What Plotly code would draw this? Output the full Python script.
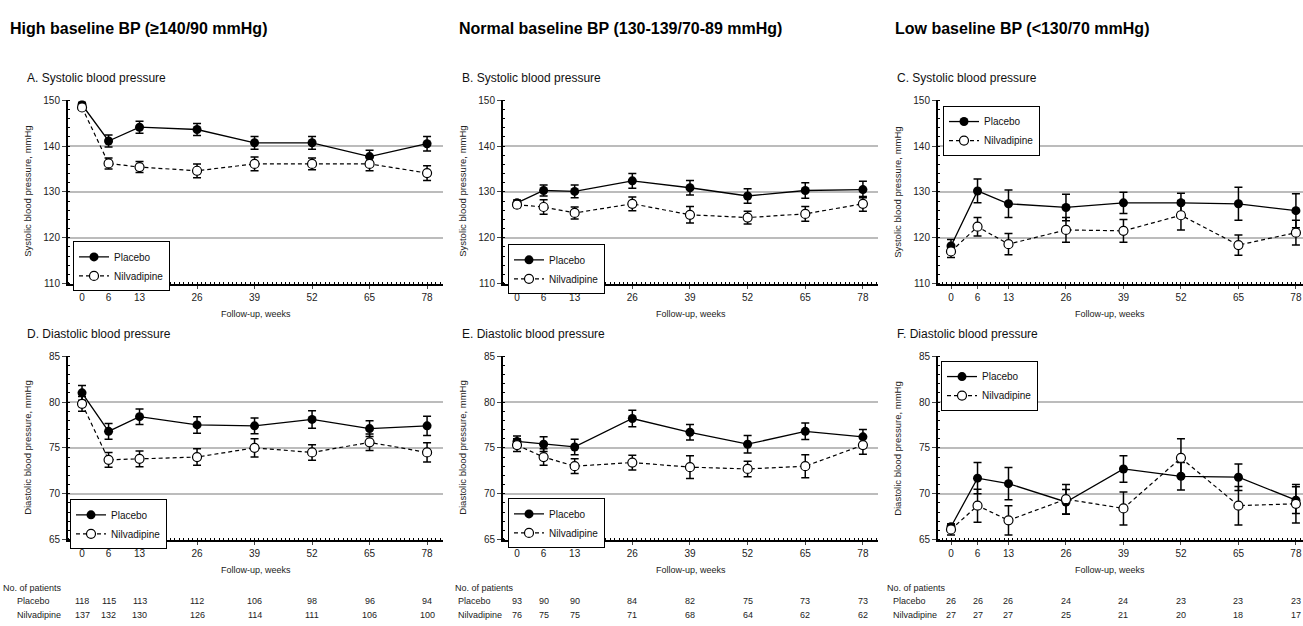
import plotly.graph_objects as go

weeks = [0, 6, 13, 26, 39, 52, 65, 78]

# Systolic BP (mmHg) - mean and error
A_placebo = [149.0, 141.1, 144.1, 143.6, 140.7, 140.7, 137.7, 140.5]
A_placebo_err = [0.5, 1.3, 1.3, 1.3, 1.4, 1.4, 1.4, 1.6]
A_nilva = [148.4, 136.2, 135.4, 134.6, 136.1, 136.1, 136.1, 134.1]
A_nilva_err = [0.5, 1.2, 1.2, 1.5, 1.5, 1.3, 1.5, 1.6]

B_placebo = [127.6, 130.3, 130.1, 132.4, 130.9, 129.1, 130.3, 130.5]
B_placebo_err = [0.6, 1.2, 1.4, 1.6, 1.6, 1.6, 1.7, 1.8]
B_nilva = [127.2, 126.7, 125.4, 127.4, 125.0, 124.4, 125.2, 127.4]
B_nilva_err = [0.6, 1.6, 1.3, 1.5, 1.8, 1.4, 1.6, 1.6]

C_placebo = [118.2, 130.2, 127.4, 126.6, 127.6, 127.6, 127.4, 125.9]
C_placebo_err = [1.4, 2.6, 3.0, 2.9, 2.3, 2.1, 3.6, 3.7]
C_nilva = [117.0, 122.4, 118.6, 121.7, 121.5, 124.9, 118.4, 121.1]
C_nilva_err = [1.3, 2.0, 2.3, 2.7, 2.5, 3.2, 2.2, 2.7]

# Diastolic BP (mmHg)
D_placebo = [81.0, 76.8, 78.4, 77.5, 77.4, 78.1, 77.1, 77.4]
D_placebo_err = [0.8, 0.85, 0.85, 0.9, 0.85, 0.95, 0.85, 1.05]
D_nilva = [79.8, 73.7, 73.8, 74.0, 75.0, 74.5, 75.6, 74.5]
D_nilva_err = [0.8, 0.8, 0.85, 0.9, 1.0, 0.85, 0.9, 1.05]

E_placebo = [75.7, 75.4, 75.1, 78.2, 76.7, 75.4, 76.8, 76.2]
E_placebo_err = [0.6, 0.8, 0.85, 0.9, 0.85, 0.95, 0.9, 0.8]
E_nilva = [75.3, 74.0, 73.0, 73.4, 72.9, 72.7, 73.0, 75.3]
E_nilva_err = [0.7, 0.9, 0.8, 0.8, 1.25, 0.85, 1.25, 1.0]

F_placebo = [66.4, 71.7, 71.1, 69.1, 72.7, 71.9, 71.8, 69.3]
F_placebo_err = [0.3, 1.7, 1.75, 1.35, 1.45, 1.5, 1.45, 1.45]
F_nilva = [66.1, 68.7, 67.1, 69.4, 68.4, 73.9, 68.7, 68.9]
F_nilva_err = [0.6, 1.8, 1.6, 1.6, 1.8, 2.1, 2.1, 2.1]

# Number of patients
high_n_placebo = [118, 115, 113, 112, 106, 98, 96, 94]
high_n_nilva = [137, 132, 130, 126, 114, 111, 106, 100]
normal_n_placebo = [93, 90, 90, 84, 82, 75, 73, 73]
normal_n_nilva = [76, 75, 75, 71, 68, 64, 62, 62]
low_n_placebo = [26, 26, 26, 24, 24, 23, 23, 23]
low_n_nilva = [27, 27, 27, 25, 21, 20, 18, 17]

column_titles = ["High baseline BP (≥140/90 mmHg)",
                 "Normal baseline BP (130-139/70-89 mmHg)",
                 "Low baseline BP (<130/70 mmHg)"]
panel_titles = ["A. Systolic blood pressure", "B. Systolic blood pressure",
                "C. Systolic blood pressure", "D. Diastolic blood pressure",
                "E. Diastolic blood pressure", "F. Diastolic blood pressure"]

FONT = "Liberation Sans, Arial, sans-serif"
W, H = 1303, 626

def px_x(p):
    return p / W

def px_y(p):
    return 1 - p / H

col_px = [(68, 443), (503, 878), (938, 1303)]
row_px = [(96, 283), (357, 544)]
x_ranges = [[-3.17, 81.6], [-3.16, 81.4], [-2.94, 79.6]]

fig = go.Figure()

panels = [
    (A_placebo, A_placebo_err, A_nilva, A_nilva_err),
    (B_placebo, B_placebo_err, B_nilva, B_nilva_err),
    (C_placebo, C_placebo_err, C_nilva, C_nilva_err),
    (D_placebo, D_placebo_err, D_nilva, D_nilva_err),
    (E_placebo, E_placebo_err, E_nilva, E_nilva_err),
    (F_placebo, F_placebo_err, F_nilva, F_nilva_err),
]

legend_pos = [(73, 240), (508, 243), (943, 102), (70, 503), (508, 502), (941, 362)]

layout = {}
annotations = []
for i, (pl, ple, nv, nve) in enumerate(panels):
    r, c = divmod(i, 3)
    idx = i + 1
    xa = "x" if idx == 1 else f"x{idx}"
    ya = "y" if idx == 1 else f"y{idx}"
    lg = "legend" if idx == 1 else f"legend{idx}"
    fig.add_trace(go.Scatter(
        x=weeks, y=pl, name="Placebo", mode="lines+markers",
        line=dict(color="black", width=1.3),
        marker=dict(symbol="circle", size=9, color="black"),
        error_y=dict(type="data", array=ple, color="black", thickness=1.5, width=4),
        xaxis=xa, yaxis=ya, legend=lg))
    fig.add_trace(go.Scatter(
        x=weeks, y=nv, name="Nilvadipine", mode="lines+markers",
        line=dict(color="black", width=1.2, dash="4px,3px"),
        marker=dict(symbol="circle", size=9, color="white",
                    line=dict(color="black", width=1.2)),
        error_y=dict(type="data", array=nve, color="black", thickness=1.5, width=4),
        xaxis=xa, yaxis=ya, legend=lg))

    x0, x1 = col_px[c]
    y0, y1 = row_px[r]
    sys = r == 0
    layout[("xaxis" if idx == 1 else f"xaxis{idx}")] = dict(
        domain=[px_x(x0), px_x(x1)], anchor=ya, range=x_ranges[c],
        tickvals=weeks, ticks="outside", ticklen=3, tickwidth=1,
        showline=True, linecolor="black", linewidth=2, showgrid=False,
        zeroline=False, tickfont=dict(size=10, color="#222", family=FONT),
        minor=dict(dtick=1, tick0=0, ticks="inside", ticklen=2, tickcolor="black",
                   showgrid=False))
    layout[("yaxis" if idx == 1 else f"yaxis{idx}")] = dict(
        domain=[px_y(y1), px_y(y0)], anchor=xa,
        range=[110, 150] if sys else [65, 85],
        dtick=10 if sys else 5, ticks="outside", ticklen=4, tickwidth=1,
        showline=True, linecolor="black", linewidth=2,
        showgrid=True, gridcolor="#bcbcbc", gridwidth=2, zeroline=False,
        tickfont=dict(size=10, color="#222", family=FONT),
        minor=dict(dtick=2 if sys else 1, ticks="inside", ticklen=2,
                   tickcolor="black", showgrid=False))
    lx, ly = legend_pos[i]
    layout[lg] = dict(x=px_x(lx), y=px_y(ly), xanchor="left", yanchor="top",
                      xref="paper", yref="paper",
                      bgcolor="white", bordercolor="black", borderwidth=1,
                      font=dict(size=10, family=FONT, color="#111"),
                      tracegroupgap=0, itemwidth=30)

    # panel title
    annotations.append(dict(text=panel_titles[i], x=px_x(x0 - 43), y=px_y(y0 - 23),
                            xref="paper", yref="paper", xanchor="left", yanchor="middle",
                            showarrow=False, font=dict(size=12, family=FONT, color="#111")))
    # y title
    annotations.append(dict(text=("Systolic" if sys else "Diastolic") + " blood pressure, mmHg",
                            x=px_x(x0 - 40), y=px_y((y0 + y1) / 2), xref="paper", yref="paper",
                            xanchor="center", yanchor="middle", textangle=-90, showarrow=False,
                            font=dict(size=9.5, family=FONT, color="#222")))
    # x title
    xc = (x0 + x1) / 2 if c < 2 else (x0 + 1303 - 22) / 2
    annotations.append(dict(text="Follow-up, weeks", x=px_x(xc),
                            y=px_y(y1 + 31), xref="paper", yref="paper",
                            xanchor="center", yanchor="middle", showarrow=False,
                            font=dict(size=9, family=FONT, color="#222")))

# column titles
for c, t in enumerate(column_titles):
    xs = [8, 457, 893][c]
    annotations.append(dict(text=f"<b>{t}</b>", x=px_x(xs), y=px_y(23), xref="paper", yref="paper",
                            xanchor="left", yanchor="middle", showarrow=False,
                            font=dict(size=16, family=FONT, color="black")))

# patient numbers table
tables = [(high_n_placebo, high_n_nilva), (normal_n_placebo, normal_n_nilva),
          (low_n_placebo, low_n_nilva)]
label_x = [(1, 15), (453, 456), (885, 891)]
TF = dict(size=9, family=FONT, color="#222")
for c, (npl, nnv) in enumerate(tables):
    xa = "x" if c == 0 else f"x{c + 4}"
    lx, lx2 = label_x[c]
    annotations.append(dict(text="No. of patients", x=px_x(lx), y=px_y(593), xref="paper", yref="paper",
                            xanchor="left", yanchor="middle", showarrow=False, font=TF))
    annotations.append(dict(text="Placebo", x=px_x(lx2), y=px_y(607), xref="paper", yref="paper",
                            xanchor="left", yanchor="middle", showarrow=False, font=TF))
    annotations.append(dict(text="Nilvadipine", x=px_x(lx2), y=px_y(621), xref="paper", yref="paper",
                            xanchor="left", yanchor="middle", showarrow=False, font=TF))
    for w, a, b in zip(weeks, npl, nnv):
        annotations.append(dict(text=str(a), x=w, y=px_y(607), xref=xa, yref="paper",
                                xanchor="center", yanchor="middle", showarrow=False, font=TF))
        annotations.append(dict(text=str(b), x=w, y=px_y(621), xref=xa, yref="paper",
                                xanchor="center", yanchor="middle", showarrow=False, font=TF))

fig.update_layout(**layout)
fig.update_layout(
    width=W, height=H, margin=dict(l=0, r=0, t=0, b=0),
    paper_bgcolor="white", plot_bgcolor="white",
    font=dict(family=FONT, color="#222"),
    annotations=annotations, showlegend=True)

fig.write_html("out.html", config={"displayModeBar": False},
               post_script="document.body.style.margin='0px';document.body.style.overflow='hidden';")
